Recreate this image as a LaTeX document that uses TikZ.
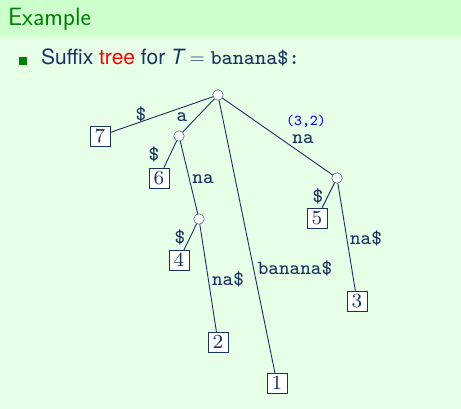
\documentclass[tikz,border=0pt]{standalone}
\usepackage{fontspec}
\newfontfamily\helv{TeX Gyre Heros}
\newfontfamily\ttsmall{lmmono8-regular}[Extension=.otf]
\newfontfamily\rmsmall{lmroman8-regular}[Extension=.otf]
\definecolor{navy}{RGB}{25,50,100}
\definecolor{headbg}{RGB}{204,255,204}
\definecolor{bodybg}{RGB}{230,255,230}
\definecolor{titlegreen}{RGB}{0,128,0}
\tikzset{
  inner/.style={circle, draw=navy, fill=white, inner sep=0pt, minimum size=10.5pt},
  leaf/.style={rectangle, draw=navy, fill=white, text=navy, minimum size=20pt, inner sep=0pt, font=\fontsize{20}{24}\rmsmall},
  lbl/.style={text=navy, inner sep=0pt, font=\fontsize{20}{24}\ttsmall},
  edge/.style={draw=navy, line width=0.9pt}
}
\begin{document}
\begin{tikzpicture}[x=1pt,y=-1pt]
        % Frame
        \fill[bodybg] (0,0) rectangle (461,409);
        \fill[headbg] (0,0) rectangle (461,37);
        \useasboundingbox (0,0) rectangle (461,409);
        \node[anchor=base west, inner sep=0pt, text=titlegreen, font=\fontsize{25}{30}\sffamily] (title) at (8,26) {Example};
        \node[fill=titlegreen, inner sep=0pt, minimum size=8pt] (bullet) at (23,61) {};
        \node[anchor=base west, inner sep=0pt, text=navy, font=\fontsize{21}{25}\helv] (intro) at (41,65)
            {Suffix \textcolor{red}{tree} for {\itshape T} $=$ {\ttsmall banana\$:}};

        % Inner nodes
        \node[inner] (root) at (218,95) {};
        \node[inner] (a) at (179,136) {};
        \node[inner] (ana) at (199,219) {};
        \node[inner] (na) at (337,178) {};

        % Leaves
        \node[leaf] (l7) at (100,136) {7};
        \node[leaf] (l6) at (159,178) {6};
        \node[leaf] (l4) at (179,260) {4};
        \node[leaf] (l2) at (218,342) {2};
        \node[leaf] (l1) at (277,383) {1};
        \node[leaf] (l5) at (317,218) {5};
        \node[leaf] (l3) at (357,301) {3};

        % Edges
        \draw[edge] (root) -- (l7);
        \draw[edge] (root) -- (a);
        \draw[edge] (root) -- (l1);
        \draw[edge] (root) -- (na);
        \draw[edge] (a) -- (l6);
        \draw[edge] (a) -- (ana);
        \draw[edge] (ana) -- (l4);
        \draw[edge] (ana) -- (l2);
        \draw[edge] (na) -- (l5);
        \draw[edge] (na) -- (l3);

        % Edge labels
        \node[lbl] (e7) at (141,114) {\$};
        \node[lbl] (ea) at (182,117) {a};
        \node[lbl] (e6) at (154,154) {\$};
        \node[lbl] (eana) at (203,179) {na};
        \node[lbl] (e4) at (180,237) {\$};
        \node[lbl] (e2) at (228,279) {na\$};
        \node[lbl] (e1) at (295,268) {banana\$};
        \node[lbl] (ena) at (303,139) {na};
        \node[inner sep=0pt, text=blue, font=\fontsize{15}{17}\ttsmall] (pair) at (306,121) {(3,2)};
        \node[lbl] (e5) at (318,196) {\$};
        \node[lbl] (e3) at (366,238) {na\$};
\end{tikzpicture}
\end{document}
